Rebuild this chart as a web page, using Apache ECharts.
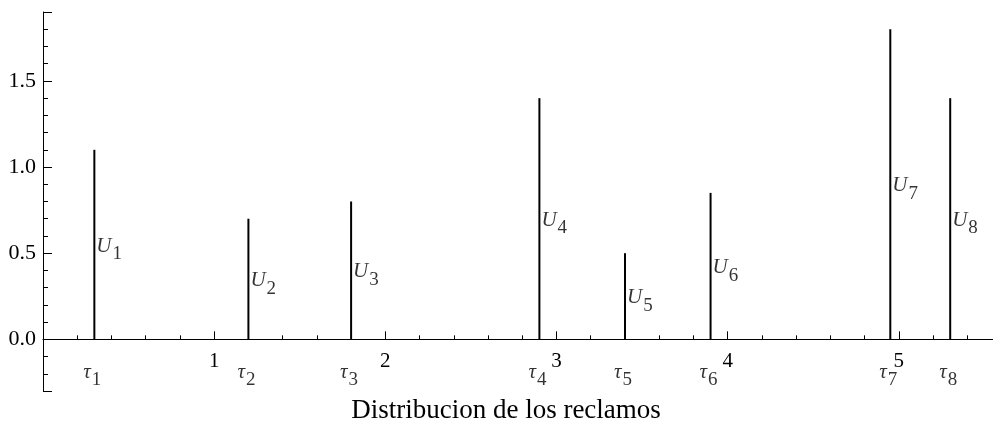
<!DOCTYPE html>
<html>
<head>
<meta charset="utf-8">
<script src="https://cdn.jsdelivr.net/npm/echarts@6/dist/echarts.min.js"></script>
<style>
html,body{margin:0;padding:0;background:#fff;}
#c{width:993px;height:430px;}
</style>
</head>
<body>
<div id="c"></div>
<script>
// Claim times (tau_i) and claim sizes (U_i)
const tauTimes = [0.3, 1.2, 1.8, 2.9, 3.4, 3.9, 4.95, 5.3];
const claimSizes = [1.1, 0.7, 0.8, 1.4, 0.5, 0.85, 1.8, 1.4];
const claimIndex = ['1', '2', '3', '4', '5', '6', '7', '8'];
const xTickLabels = ['1', '2', '3', '4', '5'];
const yTickLabels = ['0.0', '0.5', '1.0', '1.5'];
const axisTitle = 'Distribucion de los reclamos';
const tauLabelLevel = -0.2;

const FONT = 'Liberation Serif';
const Y_MIN = -0.3, Y_MAX = 1.9;
const GRID_TOP = 12, GRID_BOTTOM = 39, H = 430;

const barData = tauTimes.map((t, i) => [t, claimSizes[i]]);
const uData = tauTimes.map((t, i) => [t, claimSizes[i] / 2]);
const tData = tauTimes.map((t) => [t, tauLabelLevel]);

const chart = echarts.init(document.getElementById('c'), null, {renderer: 'canvas'});

// distance from grid bottom to the y = 0 line, so the x axis sits on zero
const gridH = H - GRID_TOP - GRID_BOTTOM;
const zeroShift = gridH * (0 - Y_MIN) / (Y_MAX - Y_MIN);

const richSub = {
  b: {fontFamily: FONT, fontStyle: 'italic', fontSize: 21, color: '#000', lineHeight: 20, verticalAlign: 'top'},
  s: {fontFamily: FONT, fontSize: 19, color: '#000', lineHeight: 20, verticalAlign: 'top', padding: [9, 0, 0, 1]}
};

chart.setOption({
  animation: false,
  grid: {left: 43, right: 0, top: GRID_TOP, bottom: GRID_BOTTOM, containLabel: false},
  xAxis: {
    type: 'value',
    min: 0,
    max: 5.55,
    interval: 1,
    offset: -zeroShift,
    axisLine: {onZero: false, lineStyle: {color: '#000', width: 1}},
    axisTick: {show: true, inside: true, length: 8, lineStyle: {color: '#000', width: 1}},
    minorTick: {show: true, splitNumber: 5, length: 4, lineStyle: {color: '#000', width: 1}},
    splitLine: {show: false},
    axisLabel: {
      showMinLabel: false,
      showMaxLabel: false,
      margin: 12,
      fontFamily: FONT,
      fontSize: 21,
      color: '#000',
      formatter: (v) => {
        const i = xTickLabels.indexOf(String(v));
        return i >= 0 ? xTickLabels[i] : '';
      }
    }
  },
  yAxis: {
    type: 'value',
    min: Y_MIN,
    max: Y_MAX,
    splitNumber: 5,
    axisLine: {show: true, onZero: false, lineStyle: {color: '#000', width: 1}},
    axisTick: {show: true, inside: true, length: 9, lineStyle: {color: '#000', width: 1}},
    minorTick: {show: true, splitNumber: 5, length: 5, lineStyle: {color: '#000', width: 1}},
    splitLine: {show: false},
    axisLabel: {
      showMinLabel: false,
      showMaxLabel: false,
      margin: 7,
      fontFamily: FONT,
      fontSize: 22,
      color: '#000',
      formatter: (v) => {
        const s = Number(v).toFixed(1);
        return yTickLabels.indexOf(s) >= 0 ? s : '';
      }
    }
  },
  graphic: [{
    type: 'text',
    x: 506,
    y: 411,
    style: {
      text: axisTitle,
      font: '27px "Liberation Serif"',
      fill: '#000',
      textAlign: 'center',
      textVerticalAlign: 'middle'
    }
  }],
  series: [
    {
      type: 'bar',
      data: barData,
      barWidth: 2,
      itemStyle: {color: '#000'},
      silent: true
    },
    {
      type: 'scatter',
      data: uData,
      symbolSize: 0,
      silent: true,
      label: {
        show: true,
        position: 'right',
        distance: 2,
        offset: [0, 1],
        formatter: (p) => '{b|U}{s|' + claimIndex[p.dataIndex] + '}',
        rich: richSub
      }
    },
    {
      type: 'scatter',
      data: tData,
      symbolSize: 0,
      silent: true,
      label: {
        show: true,
        position: 'inside',
        offset: [-2, -2],
        formatter: (p) => '{b|\u03C4}{s|' + claimIndex[p.dataIndex] + '}',
        rich: richSub
      }
    }
  ]
});
</script>
</body>
</html>
